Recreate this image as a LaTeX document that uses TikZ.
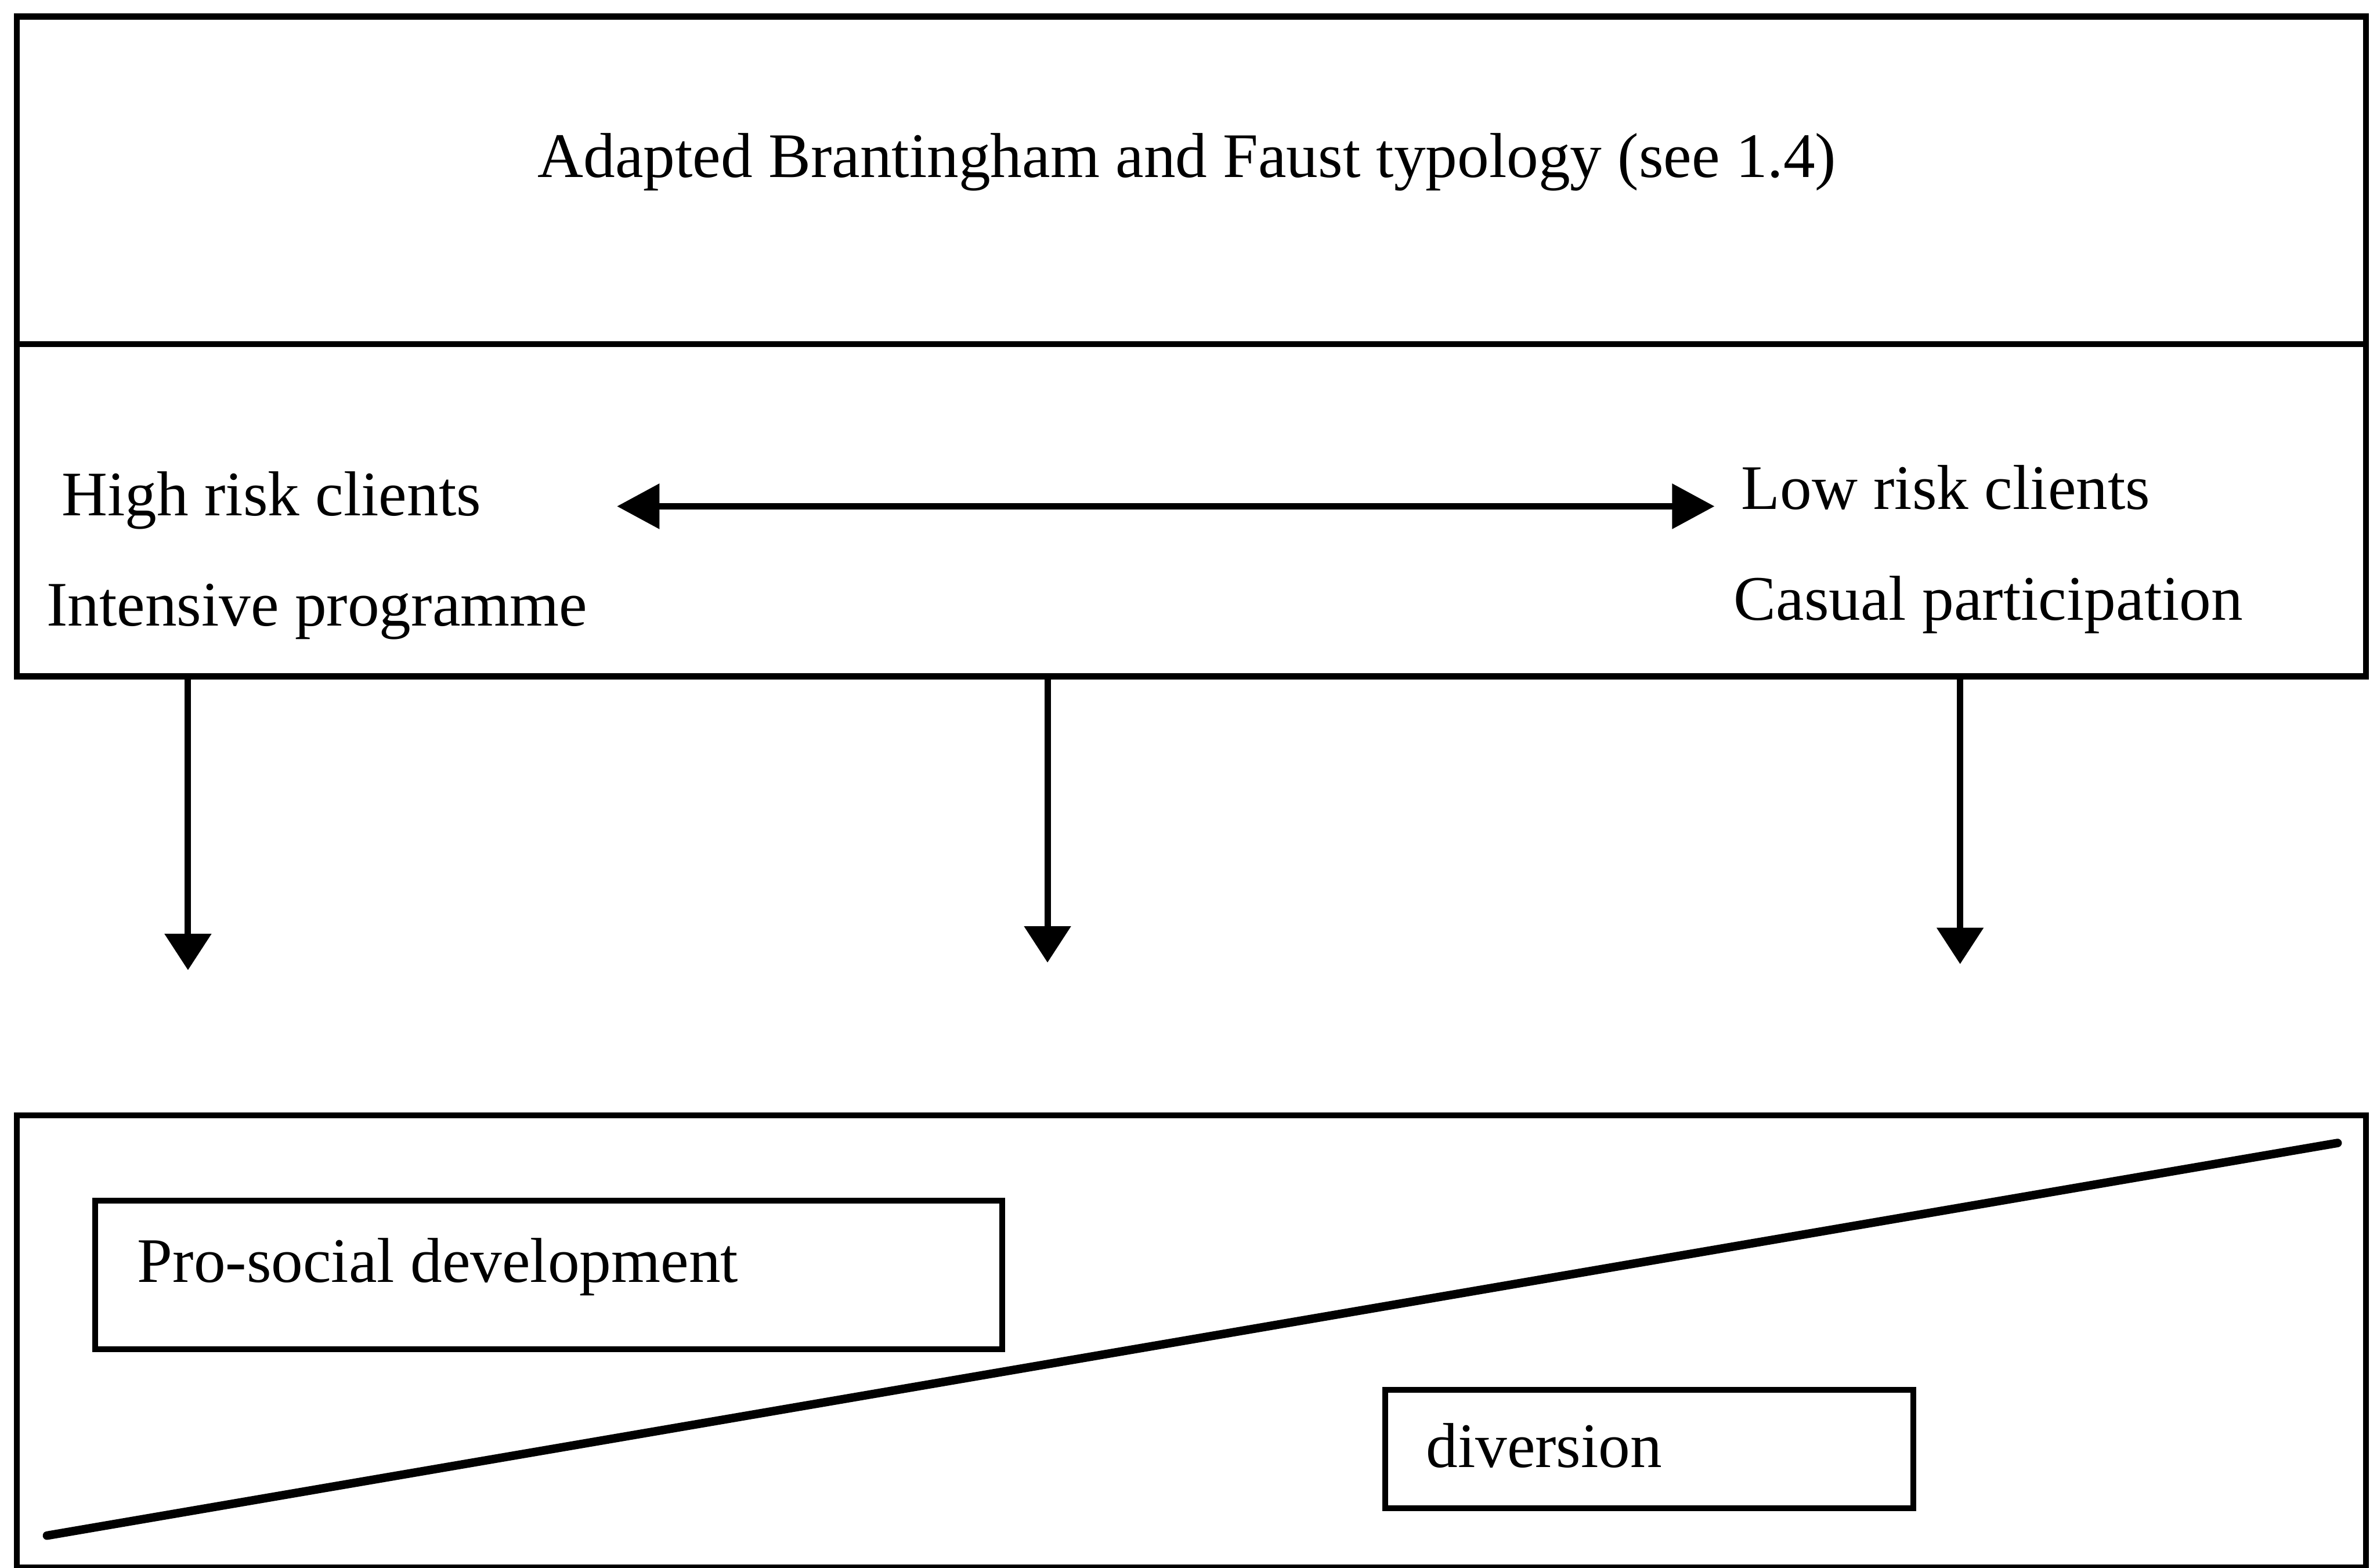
\documentclass[tikz,border=0pt]{standalone}
\usepackage{fontspec}
\setmainfont{Liberation Serif}
\usetikzlibrary{arrows.meta}
\begin{document}
\begin{tikzpicture}[x=0.01cm, y=-0.01cm,
        frame/.style={draw, line width=1.1pt, inner sep=0pt},
        lbl/.style={anchor=base west, inner sep=0pt, font=\fontsize{11.9}{14}\selectfont},
        down/.style={line width=1.2pt, -{Triangle[width=3mm, length=2.4mm]}},
        twoway/.style={line width=1.2pt, {Triangle[width=2.9mm, length=2.8mm]}-{Triangle[width=2.9mm, length=2.8mm]}}]
    \useasboundingbox (0, 0) rectangle (1568, 1034);
    % upper box: typology and risk range
    \node[frame, anchor=north west, minimum width=15.49cm, minimum height=4.35cm] (typology) at (9, 9) {};
    \draw[line width=1.1pt] (typology.west |- 0, 227) -- (typology.east |- 0, 227);
    \node[lbl, anchor=base] (title) at (783, 117) {Adapted Brantingham and Faust typology (see 1.4)};
    \node[lbl] (high) at (40, 340) {High risk clients};
    \node[lbl] (intensive) at (30, 413) {Intensive programme};
    \node[lbl] (low) at (1148, 336) {Low risk clients};
    \node[lbl] (casual) at (1143, 409) {Casual participation};
    \coordinate (rangeL) at (407, 334);
    \coordinate (rangeR) at (1131, 334);
    \draw[twoway] (rangeL) -- (rangeR);
    % arrows down
    \coordinate (tipA) at (124, 640);
    \coordinate (tipB) at (691, 635);
    \coordinate (tipC) at (1293, 636);
    \draw[down] (typology.south -| tipA) -- (tipA);
    \draw[down] (typology.south -| tipB) -- (tipB);
    \draw[down] (typology.south -| tipC) -- (tipC);
    % lower box: programme emphasis
    \node[frame, anchor=north west, minimum width=15.49cm, minimum height=2.98cm] (emphasis) at (9, 734) {};
    \node[frame, anchor=north west, minimum width=5.98cm, minimum height=0.98cm] (prosocial) at (61, 790) {};
    \node[lbl] (prosocialtext) at (90, 846) {Pro-social development};
    \node[frame, anchor=north west, minimum width=3.48cm, minimum height=0.78cm] (diversion) at (912, 915) {};
    \node[lbl] (diversiontext) at (940, 968) {diversion};
    \coordinate (slopeL) at (31, 1013);
    \coordinate (slopeR) at (1542, 754);
    \draw[line width=1.6pt, line cap=round] (slopeL) -- (slopeR);
\end{tikzpicture}
\end{document}
